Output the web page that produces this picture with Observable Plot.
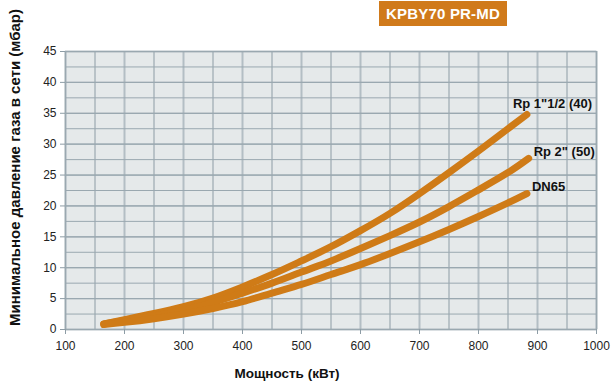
<!DOCTYPE html>
<html>
<head>
<meta charset="utf-8">
<script src="https://cdn.jsdelivr.net/npm/d3@7"></script>
<script src="https://cdn.jsdelivr.net/npm/@observablehq/plot@0.6"></script>
<style>
  html, body { margin: 0; padding: 0; background: #fff; }
  #wrap { position: relative; width: 613px; height: 390px; }
  #title {
    position: absolute; left: 379px; top: 1px; width: 128px; height: 25px;
    background: #d07a1b; color: #fff; font: bold 15px "Liberation Sans", Arial, sans-serif;
    display: flex; align-items: center; justify-content: center; letter-spacing: 0.2px;
  }
</style>
</head>
<body>
<div id="wrap"><div id="title">KPBY70 PR-MD</div></div>
<script>
const titleText = "KPBY70 PR-MD";
const xLabel = "Мощность (кВт)";
const yLabel = "Минимальное давление газа в сети (мбар)";
const seriesNames = ["Rp 1\"1/2 (40)", "Rp 2\" (50)", "DN65"];

const powerTop = [165, 200, 250, 300, 350, 400, 450, 500, 550, 600, 650, 700, 750, 800, 850, 882];
const pressTop = [0.9, 1.6, 2.6, 3.7, 5.1, 6.9, 8.9, 11.1, 13.4, 16.0, 18.8, 22.0, 25.4, 28.9, 32.5, 34.8];

const powerMid = [165, 200, 250, 300, 350, 400, 450, 500, 550, 600, 650, 700, 750, 800, 850, 885];
const pressMid = [0.9, 1.45, 2.2, 3.1, 4.4, 5.9, 7.5, 9.3, 11.1, 13.1, 15.2, 17.4, 19.9, 22.6, 25.4, 27.7];

const powerLow = [165, 200, 250, 300, 350, 400, 450, 500, 550, 600, 650, 700, 750, 800, 850, 882];
const pressLow = [0.8, 1.15, 1.75, 2.5, 3.4, 4.5, 5.9, 7.3, 8.9, 10.5, 12.3, 14.2, 16.2, 18.3, 20.5, 22.0];

const xTicks = [100, 200, 300, 400, 500, 600, 700, 800, 900, 1000];
const yTicks = [0, 5, 10, 15, 20, 25, 30, 35, 40, 45];
const xMinor = d3.range(150, 1000, 100);
const yGrid = d3.range(2.5, 45, 2.5);

const rows = [];
[[powerTop, pressTop], [powerMid, pressMid], [powerLow, pressLow]].forEach(([xs, ys], i) => {
  xs.forEach((x, j) => rows.push({series: seriesNames[i], x, y: ys[j]}));
});
const ends = [
  {series: seriesNames[0], x: powerTop.at(-1), y: pressTop.at(-1)},
  {series: seriesNames[1], x: powerMid.at(-1), y: pressMid.at(-1)},
  {series: seriesNames[2], x: powerLow.at(-1), y: pressLow.at(-1)}
];
const labelDx = [-14, 5, 5];
const labelDy = [-11, -7, -7];

const orange = "#cf7b17";
const font = "'Liberation Sans', Arial, sans-serif";

const chart = Plot.plot({
  width: 613,
  height: 390,
  marginTop: 51,
  marginBottom: 61,
  marginLeft: 65,
  marginRight: 17,
  style: {fontFamily: font, fontSize: "12px", color: "#222", background: "#fff"},
  x: {domain: [100, 1000], label: null},
  y: {domain: [0, 45], label: null},
  marks: [
    Plot.frame({fill: "#e5e9ea", stroke: null}),
    Plot.ruleX(xMinor, {stroke: "#8d9ca5", strokeWidth: 1}),
    Plot.ruleX(xTicks, {stroke: "#b3bec4", strokeWidth: 2}),
    Plot.ruleY(yGrid, {stroke: "#9aa8b0", strokeWidth: 1}),
    Plot.ruleY(yTicks, {stroke: "#9aa8b0", strokeWidth: 1.3}),
    Plot.frame({stroke: "#9aa8b0", strokeWidth: 1.3}),
    Plot.axisX({ticks: xTicks, tickFormat: d3.format("d"), tickSize: 5, tickPadding: 7, stroke: "#8d9ca5", fontSize: 12}),
    Plot.axisY({ticks: yTicks, tickFormat: d3.format("d"), tickSize: 5, tickPadding: 4, stroke: "#8d9ca5", fontSize: 12}),
    Plot.line(rows, {x: "x", y: "y", z: "series", stroke: orange, strokeWidth: 7,
      strokeLinecap: "round", strokeLinejoin: "round", curve: "natural"}),
    ...ends.map((e, i) => Plot.text([e], {x: "x", y: "y", text: "series", textAnchor: "start",
      dx: labelDx[i], dy: labelDy[i], fontWeight: "bold", fontSize: 13, fill: "#111"})),
    Plot.text([xLabel], {frameAnchor: "bottom", textAnchor: "middle", dx: -44, dy: 48, fontWeight: "bold", fontSize: 13.5, fill: "#111"}),
    Plot.text([yLabel], {frameAnchor: "left", textAnchor: "middle", rotate: -90, dx: -50, dy: -23, fontWeight: "bold", fontSize: 15, fill: "#111"})
  ]
});
document.getElementById("wrap").prepend(chart);
chart.style.position = "absolute";
chart.style.left = "0";
chart.style.top = "0";
document.getElementById("title").textContent = titleText;
</script>
</body>
</html>
